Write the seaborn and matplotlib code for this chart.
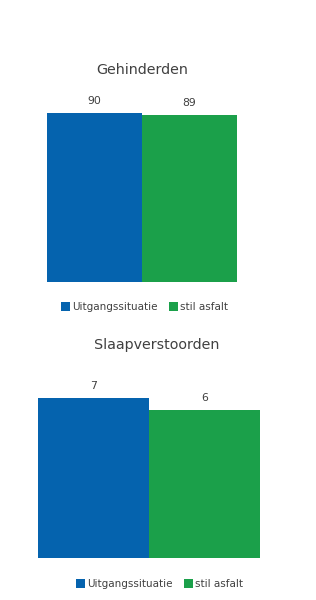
import pandas as pd
import numpy as np
import seaborn as sns
import matplotlib.pyplot as plt

# data
series = ['Uitgangssituatie', 'stil asfalt']
gehinderden = [90, 89]
slaapverstoorden = [6.8, 6.3]
titles = ['Gehinderden', 'Slaapverstoorden']
colors = ['#0563ae', '#1ba04a']
text_color = '#404040'

sns.set_style('white')
plt.rcParams['font.family'] = ['DejaVu Sans']

fig = plt.figure(figsize=(3.16, 6.0), dpi=100)

# axes placed by hand: [left, bottom, width, height] in figure fractions
ax1 = fig.add_axes([47 / 316, 1 - 282 / 600, 190 / 316, 187.8 / 600])
ax2 = fig.add_axes([38 / 316, 1 - 558 / 600, 222 / 316, 188 / 600])


def draw(ax, values, ymax, title, title_xy, legend_xy):
    df = pd.DataFrame({'groep': ['a', 'a'], 'serie': series, 'waarde': values})
    sns.barplot(data=df, x='groep', y='waarde', hue='serie', palette=colors,
                width=1, saturation=1, linewidth=0, ax=ax, legend=True)
    ax.set_xlim(-0.5, 0.5)
    ax.set_ylim(0, ymax)
    ax.axis('off')
    for c in ax.containers:
        ax.bar_label(c, fmt='%.0f', padding=5, fontsize=7.8, color=text_color)
    handles, labels = ax.get_legend_handles_labels()
    ax.get_legend().remove()
    fig.legend(handles, labels, loc='center', bbox_to_anchor=legend_xy, ncol=2,
               frameon=False, fontsize=7.5, handlelength=0.9, handleheight=0.9,
               handletextpad=0.2, columnspacing=1.1, labelcolor=text_color)
    fig.text(title_xy[0], title_xy[1], title, ha='center', va='center',
             fontsize=10.3, color=text_color)


draw(ax1, gehinderden, 100, titles[0], (142 / 316, 1 - 70 / 600), (144.5 / 316, 1 - 307 / 600))
draw(ax2, slaapverstoorden, 8, titles[1], (157 / 316, 1 - 345 / 600), (159.5 / 316, 1 - 584 / 600))

fig.savefig('out.png', dpi=100, facecolor='white')
